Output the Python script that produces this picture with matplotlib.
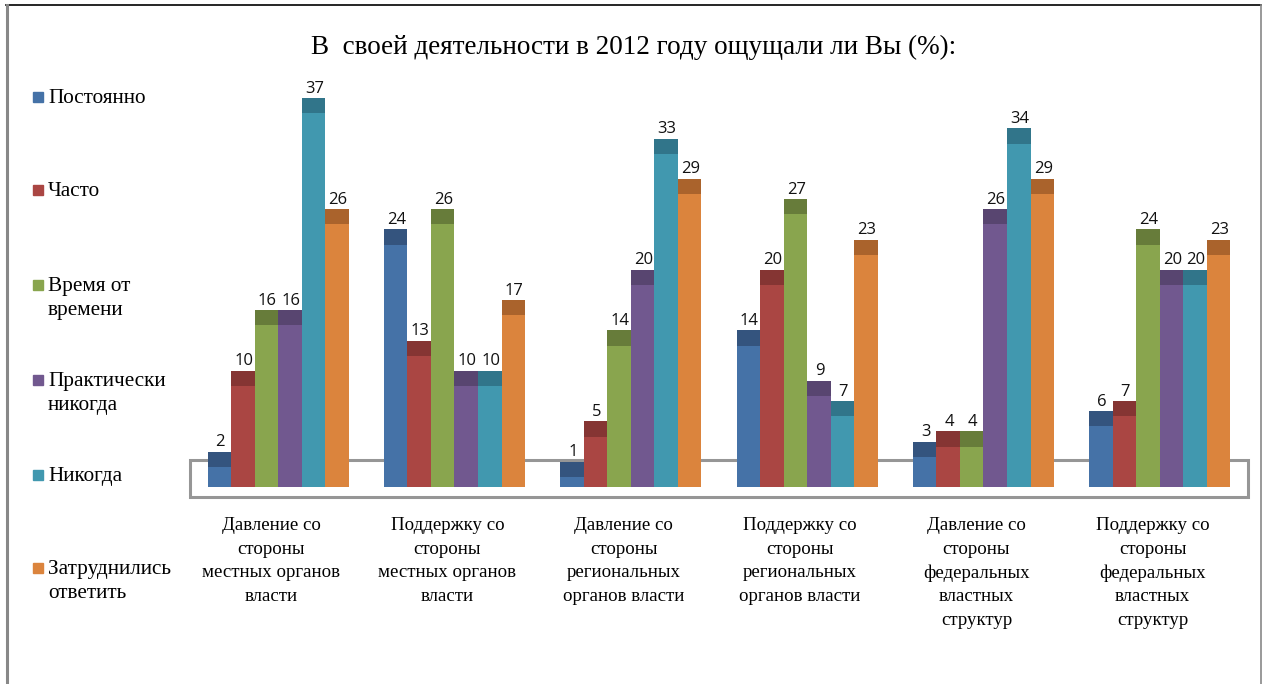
import numpy as np
import matplotlib.pyplot as plt
from matplotlib.patches import Rectangle

categories = [
    "Давление со\nстороны\nместных органов\nвласти",
    "Поддержку со\nстороны\nместных органов\nвласти",
    "Давление со\nстороны\nрегиональных\nорганов власти",
    "Поддержку со\nстороны\nрегиональных\nорганов власти",
    "Давление со\nстороны\nфедеральных\nвластных\nструктур",
    "Поддержку со\nстороны\nфедеральных\nвластных\nструктур",
]
series = ["Постоянно", "Часто", "Время от\nвремени", "Практически\nникогда",
          "Никогда", "Затруднились\nответить"]
postoyanno = [2, 24, 1, 14, 3, 6]
chasto = [10, 13, 5, 20, 4, 7]
vremya = [16, 26, 14, 27, 4, 24]
prakt_nikogda = [16, 10, 20, 9, 26, 20]
nikogda = [37, 10, 33, 7, 34, 20]
zatrudn = [26, 17, 29, 23, 29, 23]
values = [postoyanno, chasto, vremya, prakt_nikogda, nikogda, zatrudn]

colors = ["#4572A7", "#AA4643", "#89A54E", "#71588F", "#4198AF", "#DB843D"]
caps = ["#34547E", "#853533", "#677C3A", "#584570", "#31758A", "#AA632C"]

W, H = 1267, 684
fig = plt.figure(figsize=(W / 100, H / 100), dpi=100)

s = 10.1          # px per unit
base_px = 487     # baseline pixel (from top)
ax_bot_px, ax_top_px = 497, 60
ax_l_px, ax_r_px = 190, 1248
ax = fig.add_axes([ax_l_px / W, 1 - ax_bot_px / H,
                   (ax_r_px - ax_l_px) / W, (ax_bot_px - ax_top_px) / H])
y0 = -(ax_bot_px - base_px) / s
ax.set_ylim(y0, y0 + (ax_bot_px - ax_top_px) / s)
ax.set_xlim(-0.5, 5.5)
ax.axis("off")

# floor
ax.add_patch(Rectangle((-0.5, y0), 6.0, (base_px - 460) / s - y0,
                       fill=False, edgecolor="#969696", lw=2.2, zorder=1,
                       clip_on=False))

x = np.arange(len(categories))
bw = 0.1335
cap = 1.5
for i, vals in enumerate(values):
    xs = x + (i - 2.5) * bw
    ax.bar(xs, vals, bw, color=colors[i], lw=0, zorder=2)
    ax.bar(xs, [cap] * len(vals), bw, bottom=vals, color=caps[i], lw=0, zorder=2)
    for xi, v in zip(xs, vals):
        ax.text(xi + 0.005, v + cap + 0.15, str(v), ha="center", va="bottom",
                fontsize=12, family="Open Sans", color="#111111")

for xi, lab in zip(x, categories):
    ax.text(xi - 0.04, y0 - 2.0, lab, ha="center", va="top", fontsize=13.6,
            family="Liberation Serif", linespacing=1.5)

fig.text(0.5, 1 - 47 / H, "В  своей деятельности в 2012 году ощущали ли Вы (%):",
         ha="center", va="center", fontsize=19.5, family="Liberation Serif")

# legend
leg_y = [97, 190, 285, 380, 475, 568]
for i, (lab, yy) in enumerate(zip(series, leg_y)):
    fig.patches.append(Rectangle((33 / W, 1 - (yy + 5) / H), 10 / W, 10 / H,
                                 transform=fig.transFigure, color=colors[i]))
    fig.text(48 / W, 1 - (yy - 8) / H, lab, ha="left", va="top", fontsize=15.3,
             family="Liberation Serif", linespacing=1.35)

# frame
fig.add_artist(plt.Line2D([6 / W, 1261 / W], [1 - 5 / H, 1 - 5 / H],
                          color="black", lw=1.2, transform=fig.transFigure))
fig.add_artist(plt.Line2D([7 / W, 7 / W], [0, 1 - 5 / H],
                          color="#888888", lw=2.2, transform=fig.transFigure))
fig.add_artist(plt.Line2D([1261 / W, 1261 / W], [0, 1 - 5 / H],
                          color="#888888", lw=1.2, transform=fig.transFigure))

fig.savefig("out.png", dpi=100)
